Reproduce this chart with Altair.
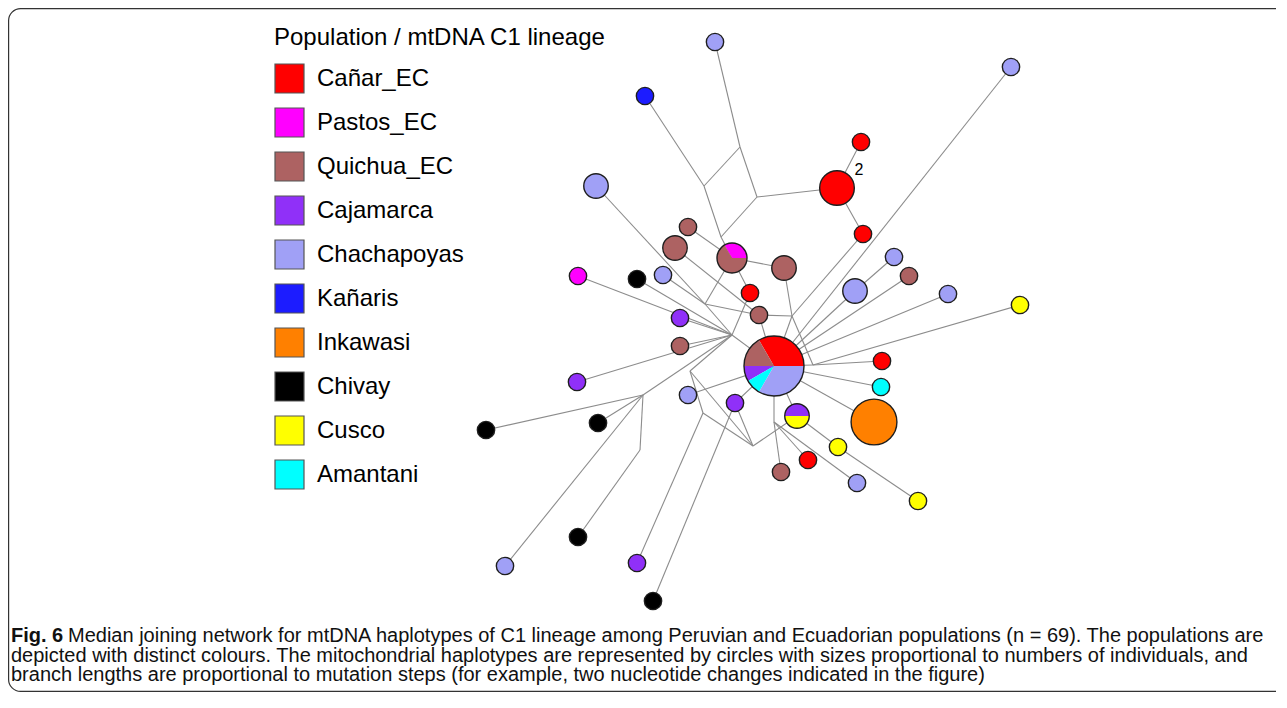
import math
import altair as alt
import pandas as pd

W, H = 1268, 684

# ---------------- populations / colours ----------------
populations = ["Cañar_EC", "Pastos_EC", "Quichua_EC", "Cajamarca", "Chachapoyas",
               "Kañaris", "Inkawasi", "Chivay", "Cusco", "Amantani"]
pop_colors = ["#ff0000", "#ff00ff", "#ad6262", "#9030f8", "#a0a0f6",
              "#1c1cff", "#ff8000", "#000000", "#ffff00", "#00ffff"]

# ---------------- haplotypes (circles) ----------------
hap_id = ["h1", "h2", "h3", "h4", "h5", "h6", "h7", "h8", "h9", "h10",
          "h11", "h12", "h13", "h14", "h15", "h16", "h17", "h18", "h19", "h20",
          "h21", "h22", "h23", "h24", "h25", "h26", "h27", "h28", "h29", "h30",
          "h31", "h32", "h33", "h34", "h35", "h36", "h37", "h38", "h39", "h40",
          "h41", "h42"]
hap_x = [715, 1011, 645, 861, 837, 596, 863, 688, 675, 732,
         784, 894, 909, 578, 637, 663, 750, 855, 948, 1020,
         680, 759, 680, 774, 882, 881, 577, 688, 735, 797,
         874, 486, 598, 838, 808, 781, 857, 918, 578, 505,
         637, 653]
hap_y = [42, 67, 96, 142, 188, 186, 234, 227, 248, 258,
         268, 257, 276, 276, 279, 275, 293, 291, 294, 305,
         318, 315, 346, 366, 361, 387, 382, 395, 403, 416,
         422, 430, 423, 447, 460, 472, 483, 501, 537, 566,
         563, 601]
# composition of each haplotype (slices drawn counter-clockwise from 3 o'clock)
hap_pops = [
    [("Chachapoyas", 1)], [("Chachapoyas", 1)], [("Kañaris", 1)], [("Cañar_EC", 1)],
    [("Cañar_EC", 4)], [("Chachapoyas", 2)], [("Cañar_EC", 1)], [("Quichua_EC", 1)],
    [("Quichua_EC", 2)], [("Pastos_EC", 1), ("Quichua_EC", 2)],
    [("Quichua_EC", 2)], [("Chachapoyas", 1)], [("Quichua_EC", 1)], [("Pastos_EC", 1)],
    [("Chivay", 1)], [("Chachapoyas", 1)], [("Cañar_EC", 1)], [("Chachapoyas", 2)],
    [("Chachapoyas", 1)], [("Cusco", 1)],
    [("Cajamarca", 1)], [("Quichua_EC", 1)], [("Quichua_EC", 1)],
    [("Cañar_EC", 4), ("Quichua_EC", 2), ("Cajamarca", 1), ("Amantani", 1), ("Chachapoyas", 4)],
    [("Cañar_EC", 1)], [("Amantani", 1)], [("Cajamarca", 1)], [("Chachapoyas", 1)],
    [("Cajamarca", 1)], [("Cajamarca", 1), ("Cusco", 1)],
    [("Inkawasi", 7)], [("Chivay", 1)], [("Chivay", 1)], [("Cusco", 1)],
    [("Cañar_EC", 1)], [("Quichua_EC", 1)], [("Chachapoyas", 1)], [("Cusco", 1)],
    [("Chivay", 1)], [("Chachapoyas", 1)], [("Cajamarca", 1)], [("Chivay", 1)],
]

# ---------------- median vectors (junctions) ----------------
mv_id = ["A", "B", "C", "D", "J1", "J2", "E", "F", "G", "I", "Hh", "K", "L", "M"]
mv_x = [740, 757, 704, 721, 732, 705, 792, 813, 690, 703, 753, 774, 643, 640]
mv_y = [147, 197, 186, 237, 335, 304, 316, 365, 371, 413, 446, 422, 395, 450]

# ---------------- branches ----------------
edges = [
    ("A", "h1"), ("A", "B"), ("A", "C"), ("C", "h3"), ("C", "D"), ("B", "D"), ("D", "h10"),
    ("B", "h5"), ("h5", "h4"), ("h5", "h7"), ("h7", "E"),
    ("h8", "h10"), ("h10", "h11"), ("h10", "h17"), ("h9", "h22"),
    ("J2", "h10"), ("J2", "h6"), ("J2", "h16"), ("J2", "h22"), ("J2", "J1"),
    ("J1", "h14"), ("J1", "h15"), ("J1", "h21"), ("J1", "h23"), ("J1", "h27"),
    ("J1", "L"), ("J1", "h17"), ("J1", "h24"), ("J1", "G"),
    ("L", "h32"), ("L", "h33"), ("L", "h40"), ("L", "M"), ("M", "h39"),
    ("E", "h11"), ("E", "h22"), ("E", "h24"), ("E", "F"), ("h22", "h24"),
    ("F", "h24"), ("F", "h25"), ("F", "h20"), ("h24", "h26"), ("h24", "h2"),
    ("h24", "h18"), ("h18", "h12"), ("h24", "h13"), ("h24", "h19"),
    ("h24", "h31"), ("h24", "h28"), ("h24", "h29"), ("h29", "Hh"), ("h29", "h42"),
    ("G", "I"), ("G", "Hh"), ("I", "Hh"), ("I", "h41"),
    ("Hh", "h30"), ("h30", "h24"), ("h30", "h34"), ("h34", "h38"),
    ("K", "h24"), ("K", "h36"), ("K", "h35"), ("K", "h37"),
]

# mutation-step annotation
step_text = ["2"]
step_x = [859]
step_y = [170]

legend_title = "Population / mtDNA C1 lineage"
caption_bold = "Fig. 6"
caption_lines = [
    "Median joining network for mtDNA haplotypes of C1 lineage among Peruvian and Ecuadorian populations (n = 69). The populations are",
    "depicted with distinct colours. The mitochondrial haplotypes are represented by circles with sizes proportional to numbers of individuals, and",
    "branch lengths are proportional to mutation steps (for example, two nucleotide changes indicated in the figure)",
]

# ---------------- build tables ----------------
pos = {k: (x, y) for k, x, y in zip(hap_id, hap_x, hap_y)}
pos.update({k: (x, y) for k, x, y in zip(mv_id, mv_x, mv_y)})

edge_df = pd.DataFrame([
    {"x": pos[a][0], "y": pos[a][1], "x2": pos[b][0], "y2": pos[b][1]} for a, b in edges
])

slice_rows, node_rows = [], []
for hid, x, y, comp in zip(hap_id, hap_x, hap_y, hap_pops):
    tot = sum(c for _, c in comp)
    cum = 0
    for p, c in comp:
        hi = math.pi / 2 - 2 * math.pi * cum / tot + 2 * math.pi
        lo = math.pi / 2 - 2 * math.pi * (cum + c) / tot + 2 * math.pi
        slice_rows.append({"id": hid, "pop": p, "x": x, "y": y, "tot": tot, "t0": lo, "t1": hi})
        cum += c
    node_rows.append({"id": hid, "x": x, "y": y, "tot": tot})
slice_df = pd.DataFrame(slice_rows)
node_df = pd.DataFrame(node_rows)

step_df = pd.DataFrame({"x": step_x, "y": step_y, "t": step_text})

CAP_FS = 20
cap_x0 = 11
cap_rest_x = 68
cap_base = [642, 661.5, 681]
cap_df = pd.DataFrame({
    "x": [cap_rest_x, cap_x0, cap_x0],
    "y": cap_base,
    "t": caption_lines,
})
capb_df = pd.DataFrame({"x": [cap_x0], "y": [cap_base[0]], "t": [caption_bold]})

xs = alt.Scale(domain=[8, 8 + W], nice=False, zero=False)
ys = alt.Scale(domain=[8, 8 + H], nice=False, zero=False, reverse=True)
X = lambda f: alt.X(f, type="quantitative", scale=xs, axis=None)
Y = lambda f: alt.Y(f, type="quantitative", scale=ys, axis=None)

R_MAX = 30.0
TOT_MAX = 12

frame = alt.Chart(pd.DataFrame({"a": [0]})).mark_rect(
    fillOpacity=0, stroke="#333333", strokeWidth=1.2, cornerRadius=12
).encode(x=alt.value(0.6), x2=alt.value(W + 40), y=alt.value(0.6), y2=alt.value(H - 0.6))

edge_layer = alt.Chart(edge_df).mark_rule(color="#8c8c8c", strokeWidth=1.1).encode(
    x=X("x"), y=Y("y"), x2="x2:Q", y2="y2:Q"
)

arc_layer = alt.Chart(slice_df).mark_arc(stroke="transparent").encode(
    x=X("x"), y=Y("y"),
    theta=alt.Theta("t0:Q", scale=None, stack=False),
    theta2="t1:Q",
    radius=alt.Radius("tot:Q", scale=alt.Scale(type="sqrt", domain=[0, TOT_MAX], range=[0, R_MAX], zero=True)),
    color=alt.Color(
        "pop:N",
        scale=alt.Scale(domain=populations, range=pop_colors),
        legend=alt.Legend(
            title=legend_title, orient="none", legendX=266, legendY=17.5,
            symbolType="square", symbolSize=841, symbolStrokeColor="#555555",
            symbolStrokeWidth=1.2, symbolOpacity=1,
            labelFont="Liberation Sans", labelFontSize=24, labelColor="#000000",
            labelOffset=12, labelLimit=400,
            titleFont="Liberation Sans", titleFontSize=24, titleFontWeight="normal",
            titleColor="#000000", titlePadding=13.5, titleLimit=600,
            rowPadding=9, padding=0,
        ),
    ),
)

# circle symbol: size is the square of the diameter
outline_layer = alt.Chart(node_df).mark_point(
    shape="circle", filled=False, stroke="#1e1e1e", strokeWidth=1.4, opacity=1
).encode(
    x=X("x"), y=Y("y"),
    size=alt.Size("tot:Q", scale=alt.Scale(type="linear", domain=[0, TOT_MAX], range=[0, (2 * R_MAX) ** 2]), legend=None),
)

step_layer = alt.Chart(step_df).mark_text(
    font="Liberation Sans", fontSize=16, align="center", baseline="middle", color="#000000"
).encode(x=X("x"), y=Y("y"), text="t:N")

cap_layer = alt.Chart(cap_df).mark_text(
    font="Liberation Sans", fontSize=CAP_FS, align="left", baseline="alphabetic", color="#111111"
).encode(x=X("x"), y=Y("y"), text="t:N")

capb_layer = alt.Chart(capb_df).mark_text(
    font="Liberation Sans", fontSize=CAP_FS, fontWeight="bold", align="left", baseline="alphabetic", color="#111111"
).encode(x=X("x"), y=Y("y"), text="t:N")

chart = alt.layer(
    frame, edge_layer, arc_layer, outline_layer, step_layer, cap_layer, capb_layer
).properties(
    width=W, height=H, padding=0, background="#ffffff",
    autosize=alt.AutoSizeParams(type="none"),
).configure_view(strokeWidth=0)

chart.save("out.html", embed_options={"renderer": "svg", "actions": False})
